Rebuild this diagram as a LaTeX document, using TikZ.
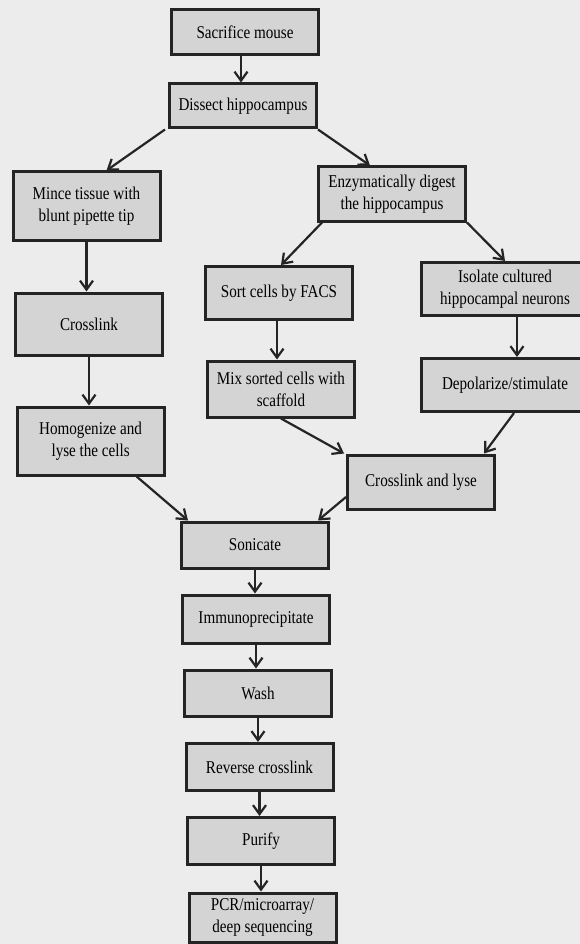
\documentclass[tikz,border=0pt]{standalone}
\usepackage{fontspec}
\setmainfont{Liberation Serif}[FakeStretch=0.84]
\usetikzlibrary{arrows.meta}

\definecolor{paper}{gray}{0.925}
\definecolor{boxfill}{gray}{0.83}
\definecolor{ink}{gray}{0.14}

\begin{document}
\begin{tikzpicture}[x=1pt, y=-1pt,
    procbox/.style={draw=ink, line width=3pt, fill=boxfill, align=center, inner sep=2pt, minimum width=147pt, font=\fontsize{18}{22}\selectfont},
    flow/.style={draw=ink, line width=2.2pt, -{Straight Barb[length=9pt, width=13pt]}}]

    \useasboundingbox (0,0) rectangle (580,944);
    \clip (0,0) rectangle (580,944);
    \fill[paper] (0,0) rectangle (580,944);

    % main column and left branch
    \node[procbox, minimum height=45pt] (sac) at (245,32) {Sacrifice mouse};
    \node[procbox, minimum height=44pt] (dis) at (243,106) {Dissect hippocampus};
    \node[procbox, minimum height=68pt] (mince) at (86.5,206) {Mince tissue with\\blunt pipette tip};
    \node[procbox, minimum height=62pt] (xl) at (89,324) {Crosslink};
    \node[procbox, minimum height=68pt] (hom) at (90.6,441) {Homogenize and\\lyse the cells};

    % enzymatic branch
    \node[procbox, minimum height=54pt] (enz) at (392,194) {Enzymatically digest\\the hippocampus};
    \node[procbox, minimum height=53pt] (facs) at (279,293) {Sort cells by FACS};
    \node[procbox, minimum height=56pt] (mix) at (281,389) {Mix sorted cells with\\scaffold};
    \node[procbox, minimum width=168pt, minimum height=53pt] (iso) at (505,289) {Isolate cultured\\hippocampal neurons};
    \node[procbox, minimum width=168pt, minimum height=53pt] (dep) at (505,385) {Depolarize/stimulate};
    \node[procbox, minimum height=54pt] (xlys) at (421,482) {Crosslink and lyse};

    % common tail
    \node[procbox, minimum height=46pt] (son) at (255,545) {Sonicate};
    \node[procbox, minimum height=48pt] (ip) at (256,619) {Immunoprecipitate};
    \node[procbox, minimum height=46pt] (wash) at (258,693) {Wash};
    \node[procbox, minimum height=47pt] (rev) at (259.5,767) {Reverse crosslink};
    \node[procbox, minimum height=47pt] (pur) at (261,841) {Purify};
    \node[procbox, minimum height=49pt] (pcr) at (262.5,917.5) {PCR/microarray/\\deep sequencing};

    \draw[flow] ([xshift=-4pt]sac.south) -- ([xshift=-4pt]sac.south |- dis.north);
    \draw[flow] ([xshift=-3pt]dis.south west) -- ([xshift=20pt]mince.north);
    \draw[flow] (dis.south east) -- ([xshift=-22pt]enz.north);
    \draw[flow] (mince.south) -- (mince.south |- xl.north);
    \draw[flow] (xl.south) -- (xl.south |- hom.north);
    \draw[flow] ([xshift=5pt]enz.south west) -- ([xshift=2pt]facs.north);
    \draw[flow] (enz.south east) -- (iso.north);
    \draw[flow] ([xshift=-2pt]facs.south) -- ([xshift=-2pt]facs.south |- mix.north);
    \draw[flow] ([xshift=12pt]iso.south) -- ([xshift=12pt]iso.south |- dep.north);
    \draw[flow] (mix.south) -- ([xshift=-2pt]xlys.north west);
    \draw[flow] ([xshift=9pt]dep.south) -- ([xshift=-12pt]xlys.north east);
    \draw[flow] ([xshift=46pt]hom.south) -- ([xshift=8pt]son.north west);
    \draw[flow] ([yshift=-15pt]xlys.west) -- ([xshift=-12pt]son.north east);
    \draw[flow] (son.south) -- (son.south |- ip.north);
    \draw[flow] (ip.south) -- (ip.south |- wash.north);
    \draw[flow] (wash.south) -- (wash.south |- rev.north);
    \draw[flow] (rev.south) -- (rev.south |- pur.north);
    \draw[flow] (pur.south) -- (pur.south |- pcr.north);

\end{tikzpicture}
\end{document}
